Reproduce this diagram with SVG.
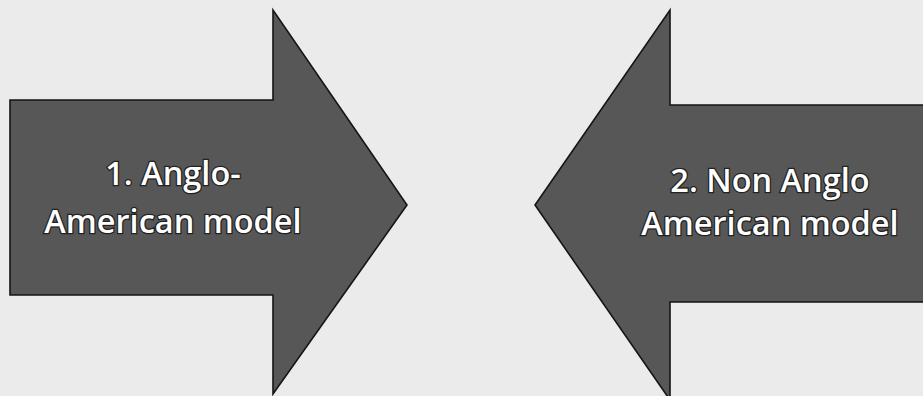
<svg xmlns="http://www.w3.org/2000/svg" width="923" height="396" viewBox="0 0 923 396">
<style>
.arrow{fill:#575757;stroke:#151515;stroke-width:1.6;stroke-linejoin:miter}
.lbl{font-family:"Open Sans","Liberation Sans",sans-serif;font-size:32.5px;font-weight:600;fill:#ffffff;stroke:#222222;stroke-width:2.6;paint-order:stroke;text-anchor:middle}
</style>
<rect width="923" height="396" fill="#ebebeb"/>
<g id="connectors"></g>
<g id="node-anglo">
<polygon class="arrow" points="10,100 273,100 273,10 407,205 273,394 273,295 10,295"/>
<text class="lbl" x="173" y="185">1. Anglo-</text>
<text class="lbl" x="173" y="233">American model</text>
</g>
<g id="node-non-anglo">
<polygon class="arrow" points="925,105 670,105 670,10 535,205 670,400 670,302 925,302"/>
<text class="lbl" x="770" y="192">2. Non Anglo</text>
<text class="lbl" x="770" y="235">American model</text>
</g>
</svg>
